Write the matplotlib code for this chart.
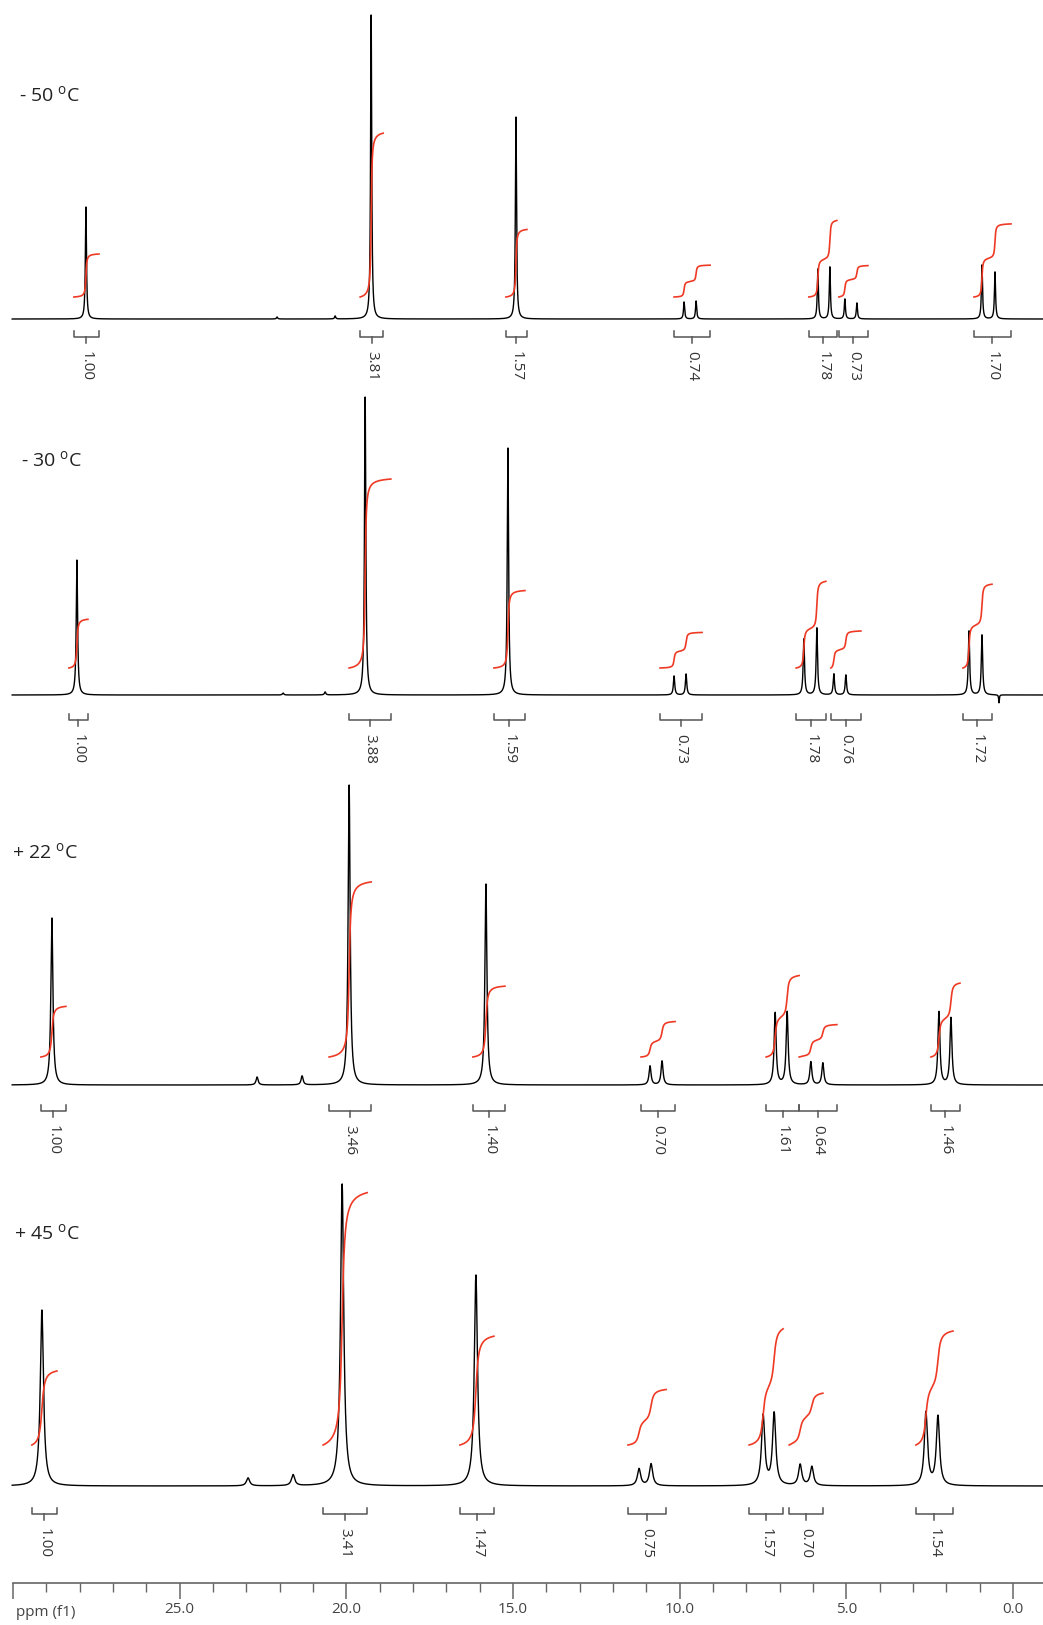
import numpy as np
import matplotlib
matplotlib.use("Agg")
import matplotlib.pyplot as plt

plt.rcParams['font.family'] = ['Open Sans', 'DejaVu Sans']
plt.rcParams['mathtext.fontset'] = 'custom'
plt.rcParams['mathtext.rm'] = 'Open Sans'

# ---------------- data ----------------
temps = ["- 50", "- 30", "+ 22", "+ 45"]

# peak positions (ppm) and heights (arbitrary units)
s1_ppm = [27.79, 22.06, 20.32, 19.24, 14.90, 9.86, 9.50, 5.85, 5.49, 5.04, 4.68, 0.93, 0.54]
s1_h   = [112, 2, 3, 304, 202, 17, 18, 50, 52, 20, 16, 54, 47]

s2_ppm = [28.06, 21.88, 20.62, 19.42, 15.14, 10.16, 9.80, 6.27, 5.88, 5.37, 5.01, 1.32, 0.93, 0.42]
s2_h   = [135, 2, 3, 298, 247, 19, 21, 56, 67, 21, 20, 64, 60, -8]

s3_ppm = [28.81, 22.66, 21.31, 19.90, 15.80, 10.88, 10.52, 7.13, 6.77, 6.06, 5.70, 2.22, 1.86]
s3_h   = [167, 8, 9, 300, 201, 19, 24, 72, 73, 23, 22, 73, 67]

s4_ppm = [29.11, 22.93, 21.58, 20.11, 16.10, 11.21, 10.85, 7.49, 7.16, 6.38, 6.03, 2.61, 2.25]
s4_h   = [176, 8, 11, 302, 211, 17, 22, 70, 72, 21, 19, 73, 69]

# half widths at half height (ppm)
hwhm = [0.02, 0.024, 0.036, 0.058]

# integration regions (ppm, high -> low) and integral values
s1_lo  = [28.15, 19.57, 15.20, 10.16, 6.12, 5.22, 1.17]
s1_hi  = [27.40, 18.88, 14.57, 9.08, 5.28, 4.35, 0.06]
s1_int = [1.00, 3.81, 1.57, 0.74, 1.78, 0.73, 1.70]

s2_lo  = [28.30, 19.90, 15.56, 10.58, 6.50, 5.46, 1.50]
s2_hi  = [27.73, 18.65, 14.63, 9.32, 5.61, 4.56, 0.63]
s2_int = [1.00, 3.88, 1.59, 0.73, 1.78, 0.76, 1.72]

s3_lo  = [29.14, 20.50, 16.19, 11.15, 7.40, 6.41, 2.46]
s3_hi  = [28.39, 19.24, 15.23, 10.13, 6.41, 5.28, 1.59]
s3_int = [1.00, 3.46, 1.40, 0.70, 1.61, 0.64, 1.46]

s4_lo  = [29.41, 20.68, 16.58, 11.54, 7.91, 6.71, 2.91]
s4_hi  = [28.66, 19.36, 15.56, 10.40, 6.89, 5.70, 1.80]
s4_int = [1.00, 3.41, 1.47, 0.75, 1.57, 0.70, 1.54]

tick_major = [30, 25, 20, 15, 10, 5, 0]
tick_labels = ["", "25.0", "20.0", "15.0", "10.0", "5.0", "0.0"]

# ---------------- layout ----------------
W, H = 1043, 1625
PX0, PXPPM = 1013.0, 33.36           # pixel of 0 ppm, pixels per ppm
def ppm_at(px):
    return (PX0 - px) / PXPPM

baseline_y = [319, 695, 1085, 1486]    # vertical offsets of the traces
int_start  = [22, 27, 28, 41]          # integral curve start above baseline
int_scale  = [43, 48.7, 50.6, 74]      # integral curve height per unit
brk_off    = [18, 25, 26, 28]          # bracket below baseline
label_pos  = [(19, 96), (21, 461), (12, 853), (14, 1234)]

spectra = [
    (s1_ppm, s1_h, s1_lo, s1_hi, s1_int),
    (s2_ppm, s2_h, s2_lo, s2_hi, s2_int),
    (s3_ppm, s3_h, s3_lo, s3_hi, s3_int),
    (s4_ppm, s4_h, s4_lo, s4_hi, s4_int),
]

fig = plt.figure(figsize=(W / 100, H / 100), dpi=100)
ax = fig.add_axes([0, 0, 1, 1])
ax.set_xlim(ppm_at(0), ppm_at(W))
ax.set_ylim(H, 0)
ax.axis('off')

x = np.linspace(30.0, ppm_at(W), 40000)

def lorentz(xx, pos, h, g):
    out = np.zeros_like(xx)
    for p, hh in zip(pos, h):
        gg = g * 0.5 if hh < 0 else g
        out += hh / (1.0 + ((xx - p) / gg) ** 2)
    return out

red = '#ee3a24'
gray = '#555555'
for i, (pos, h, lo, hi, ints) in enumerate(spectra):
    g = hwhm[i]
    y = lorentz(x, pos, h, g)
    y0 = baseline_y[i]
    ax.plot(x, y0 - y, color='black', lw=1.0, solid_joinstyle='round')

    for a, b, v in zip(lo, hi, ints):
        xi = np.linspace(a, b, 600)
        yi = lorentz(xi, pos, h, g)
        cum = np.concatenate([[0], np.cumsum(0.5 * (yi[1:] + yi[:-1]))])
        cum = cum / cum[-1]
        ax.plot(xi, y0 - int_start[i] - cum * v * int_scale[i], color=red, lw=1.2)

        yb = y0 + brk_off[i]
        mid = 0.5 * (a + b)
        ax.plot([a, a, b, b], [yb - 6, yb, yb, yb - 6], color=gray, lw=1.1)
        ax.plot([mid, mid], [yb, yb + 6], color=gray, lw=1.1)
        ax.text(mid, yb + 14, f"{v:.2f}", rotation=-90, ha='center', va='top',
                fontsize=11, color='#333333')

    lx, ly = label_pos[i]
    ax.text(ppm_at(lx), ly, temps[i] + r" ${}^{\mathrm{o}}$C", ha='left', va='center',
            fontsize=14, color='#222222')

ax.text(ppm_at(16), 1612, "ppm (f1)", ha='left', va='center', fontsize=11, color='#444444')

# ruler
axr = fig.add_axes([13 / W, (H - 1583) / H, (W - 13) / W, 0.0001])
axr.set_xlim(30.0, ppm_at(W))
axr.set_ylim(0, 1)
axr.patch.set_visible(False)
for s in ['left', 'right', 'top']:
    axr.spines[s].set_visible(False)
axr.spines['bottom'].set_color('#666666')
axr.spines['bottom'].set_linewidth(1.2)
axr.set_yticks([])
axr.set_xticks(tick_major)
axr.set_xticklabels(tick_labels)
axr.set_xticks(np.arange(0, 31, 1), minor=True)
axr.tick_params(axis='x', which='major', length=11.5, width=1.1, color='#666666',
                labelsize=11, labelcolor='#444444', pad=2, direction='out')
axr.tick_params(axis='x', which='minor', length=6.5, width=1.0, color='#666666', direction='out')

fig.savefig("out.png", dpi=100)
